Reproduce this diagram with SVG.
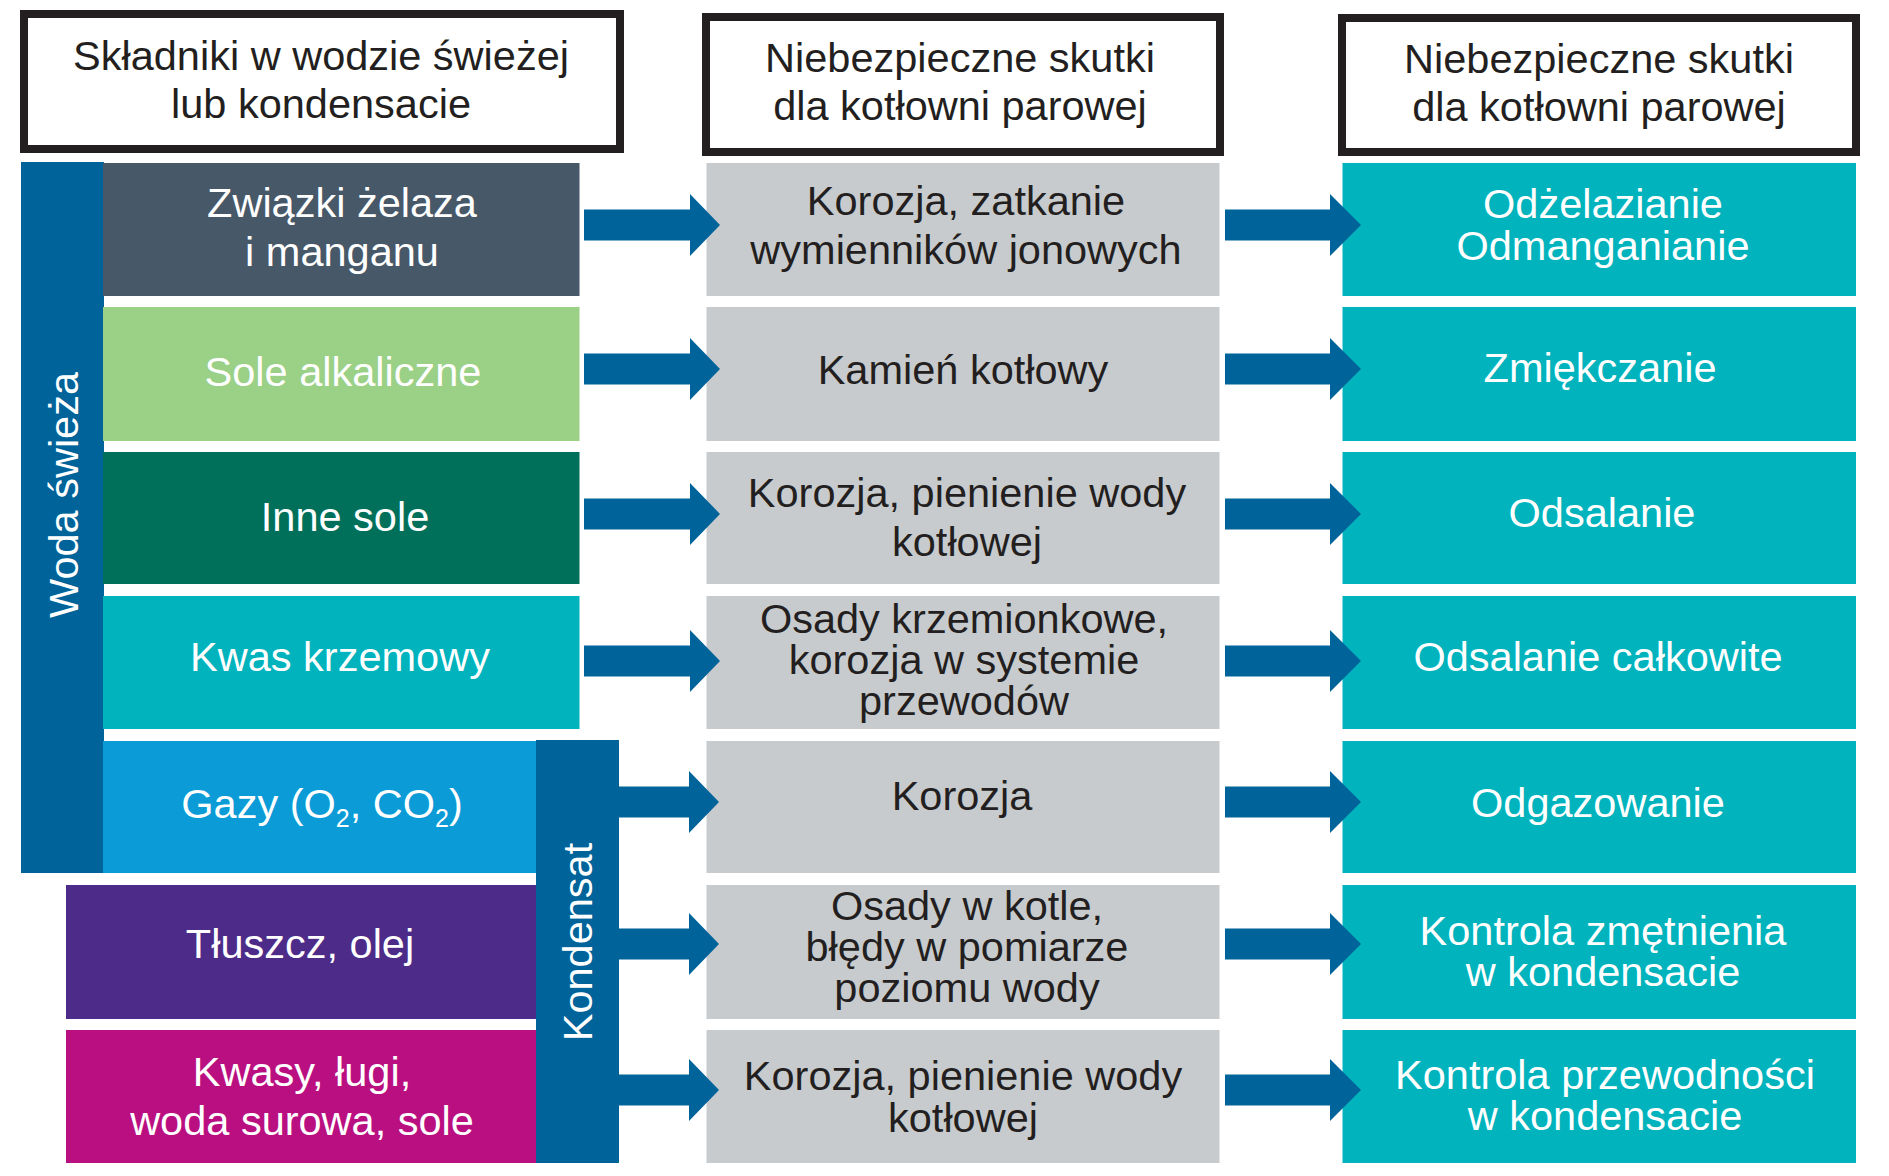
<svg xmlns="http://www.w3.org/2000/svg" width="1889" height="1176" viewBox="0 0 1889 1176">
<style>
text{font-family:"Liberation Sans",Arial,sans-serif;font-size:41.5px;text-anchor:middle}
.w{fill:#ffffff}
.d{fill:#231f20}
.hdr{fill:#ffffff;stroke:#231f20;stroke-width:8}
.gray{fill:#c8cbce}
.teal{fill:#00b3bd}
.blue{fill:#00639a}
.sub{font-size:25px}
</style>
<rect width="1889" height="1176" fill="#ffffff"/>

<g id="header-1">
<rect class="hdr" x="24" y="14" width="596" height="135"/>
<text class="d" x="321" y="70">Składniki w wodzie świeżej</text>
<text class="d" x="321" y="118">lub kondensacie</text>
</g>
<g id="header-2">
<rect class="hdr" x="706" y="17" width="514" height="135"/>
<text class="d" x="960" y="72">Niebezpieczne skutki</text>
<text class="d" x="960" y="120">dla kotłowni parowej</text>
</g>
<g id="header-3">
<rect class="hdr" x="1342" y="18" width="514" height="134"/>
<text class="d" x="1599" y="73">Niebezpieczne skutki</text>
<text class="d" x="1599" y="121">dla kotłowni parowej</text>
</g>

<g id="woda-swieza">
<rect class="blue" x="21" y="162" width="83" height="711"/>
<text class="w" transform="translate(78,495) rotate(-90)">Woda świeża</text>
</g>

<g id="src-1">
<rect x="103" y="163" width="476.5" height="133" fill="#475869"/>
<text class="w" x="342" y="217">Związki żelaza</text>
<text class="w" x="342" y="266">i manganu</text>
</g>
<g id="src-2">
<rect x="103" y="307" width="476.5" height="134" fill="#9bd087"/>
<text class="w" x="343" y="386">Sole alkaliczne</text>
</g>
<g id="src-3">
<rect x="103" y="452" width="476.5" height="132" fill="#00705b"/>
<text class="w" x="345" y="531">Inne sole</text>
</g>
<g id="src-4">
<rect x="103" y="596" width="476.5" height="133" fill="#00b3bd"/>
<text class="w" x="340" y="671">Kwas krzemowy</text>
</g>
<g id="src-5">
<rect x="103" y="741" width="440" height="132" fill="#0b9bd7"/>
<text class="w" x="322" y="818">Gazy (O<tspan class="sub" dy="9">2</tspan><tspan dy="-9">, CO</tspan><tspan class="sub" dy="9">2</tspan><tspan dy="-9">)</tspan></text>
</g>
<g id="src-6">
<rect x="66" y="885" width="477" height="134" fill="#4d2b88"/>
<text class="w" x="300" y="958">Tłuszcz, olej</text>
</g>
<g id="src-7">
<rect x="66" y="1030" width="477" height="133" fill="#ba0f80"/>
<text class="w" x="302" y="1086">Kwasy, ługi,</text>
<text class="w" x="302" y="1135">woda surowa, sole</text>
</g>

<g id="kondensat">
<rect class="blue" x="536" y="740" width="83" height="423"/>
<text class="w" transform="translate(592,942) rotate(-90)">Kondensat</text>
</g>

<g id="effect-1">
<rect class="gray" x="706.5" y="163" width="513" height="133"/>
<text class="d" x="966" y="215">Korozja, zatkanie</text>
<text class="d" x="966" y="264">wymienników jonowych</text>
</g>
<g id="effect-2">
<rect class="gray" x="706.5" y="307" width="513" height="134"/>
<text class="d" x="963" y="384">Kamień kotłowy</text>
</g>
<g id="effect-3">
<rect class="gray" x="706.5" y="452" width="513" height="132"/>
<text class="d" x="967" y="507">Korozja, pienienie wody</text>
<text class="d" x="967" y="556">kotłowej</text>
</g>
<g id="effect-4">
<rect class="gray" x="706.5" y="596" width="513" height="133"/>
<text class="d" x="964" y="633">Osady krzemionkowe,</text>
<text class="d" x="964" y="674">korozja w systemie</text>
<text class="d" x="964" y="715">przewodów</text>
</g>
<g id="effect-5">
<rect class="gray" x="706.5" y="741" width="513" height="132"/>
<text class="d" x="962" y="810">Korozja</text>
</g>
<g id="effect-6">
<rect class="gray" x="706.5" y="885" width="513" height="134"/>
<text class="d" x="967" y="920">Osady w kotle,</text>
<text class="d" x="967" y="961">błędy w pomiarze</text>
<text class="d" x="967" y="1002">poziomu wody</text>
</g>
<g id="effect-7">
<rect class="gray" x="706.5" y="1030" width="513" height="133"/>
<text class="d" x="963" y="1090">Korozja, pienienie wody</text>
<text class="d" x="963" y="1132">kotłowej</text>
</g>

<g id="treat-1">
<rect class="teal" x="1342.5" y="163" width="513.5" height="133"/>
<text class="w" x="1603" y="218">Odżelazianie</text>
<text class="w" x="1603" y="260">Odmanganianie</text>
</g>
<g id="treat-2">
<rect class="teal" x="1342.5" y="307" width="513.5" height="134"/>
<text class="w" x="1600" y="382">Zmiękczanie</text>
</g>
<g id="treat-3">
<rect class="teal" x="1342.5" y="452" width="513.5" height="132"/>
<text class="w" x="1602" y="527">Odsalanie</text>
</g>
<g id="treat-4">
<rect class="teal" x="1342.5" y="596" width="513.5" height="133"/>
<text class="w" x="1598" y="671">Odsalanie całkowite</text>
</g>
<g id="treat-5">
<rect class="teal" x="1342.5" y="741" width="513.5" height="132"/>
<text class="w" x="1598" y="817">Odgazowanie</text>
</g>
<g id="treat-6">
<rect class="teal" x="1342.5" y="885" width="513.5" height="134"/>
<text class="w" x="1603" y="945">Kontrola zmętnienia</text>
<text class="w" x="1603" y="986">w kondensacie</text>
</g>
<g id="treat-7">
<rect class="teal" x="1342.5" y="1030" width="513.5" height="133"/>
<text class="w" x="1605" y="1089">Kontrola przewodności</text>
<text class="w" x="1605" y="1130">w kondensacie</text>
</g>

<defs>
<polygon id="arrowA" points="0,-15.5 106,-15.5 106,-31 136,0 106,31 106,15.5 0,15.5"/>
<polygon id="arrowK" points="0,-15.5 71,-15.5 71,-31 101,0 71,31 71,15.5 0,15.5"/>
<polygon id="arrowB" points="0,-15.5 105,-15.5 105,-31 136,0 105,31 105,15.5 0,15.5"/>
</defs>
<g id="connectors" class="blue">
<use href="#arrowA" x="584" y="225"/>
<use href="#arrowA" x="584" y="369"/>
<use href="#arrowA" x="584" y="514"/>
<use href="#arrowA" x="584" y="661"/>
<use href="#arrowK" x="618" y="802"/>
<use href="#arrowK" x="618" y="944"/>
<use href="#arrowK" x="618" y="1090"/>
<use href="#arrowB" x="1225" y="225"/>
<use href="#arrowB" x="1225" y="369"/>
<use href="#arrowB" x="1225" y="514"/>
<use href="#arrowB" x="1225" y="661"/>
<use href="#arrowB" x="1225" y="802"/>
<use href="#arrowB" x="1225" y="944"/>
<use href="#arrowB" x="1225" y="1090"/>
</g>
</svg>
